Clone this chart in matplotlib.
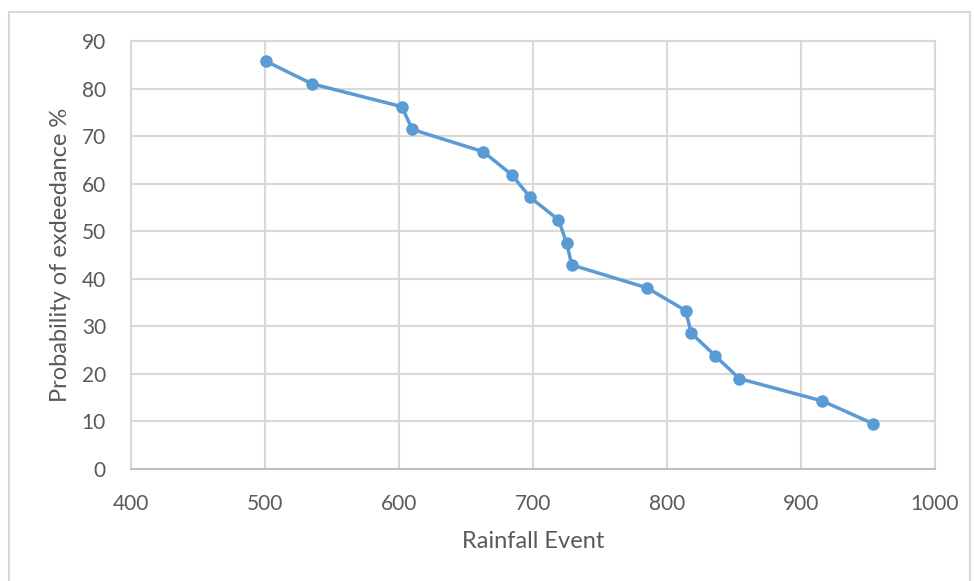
import matplotlib.pyplot as plt
from matplotlib.patches import Rectangle

rainfall = [501, 535, 602, 610, 663, 684, 698, 719, 725, 729,
            785, 814, 818, 836, 854, 916, 954]
prob_exceed = [85.7, 81.0, 76.2, 71.4, 66.7, 61.9, 57.1, 52.4, 47.6, 42.9,
               38.1, 33.3, 28.6, 23.8, 19.0, 14.3, 9.5]
x_ticks = [400, 500, 600, 700, 800, 900, 1000]
y_ticks = [0, 10, 20, 30, 40, 50, 60, 70, 80, 90]

blue = '#5B9BD5'
grey_txt = '#595959'
grid_col = '#D9D9D9'

plt.rcParams['font.family'] = ['Lato', 'DejaVu Sans']

fig = plt.figure(figsize=(9.74, 5.81), dpi=100)
ax = fig.add_axes([131/974, 1 - 469/581, (935 - 131)/974, (469 - 41)/581])

# outer chart border like the spreadsheet frame
fig.patches.append(Rectangle((9/974, -0.01), (970 - 9)/974, 1 - 12/581 + 0.01,
                             transform=fig.transFigure, fill=False,
                             edgecolor=grid_col, linewidth=1.5))

ax.plot(rainfall, prob_exceed, '-o', color=blue, linewidth=2.5,
        markersize=8, zorder=3)

ax.set_xlim(400, 1000)
ax.set_ylim(0, 90)
ax.set_xticks(x_ticks)
ax.set_yticks(y_ticks)
ax.grid(True, color=grid_col, linewidth=1.5)
ax.set_axisbelow(True)
for s in ax.spines.values():
    s.set_color(grid_col)
    s.set_linewidth(1.5)
ax.spines['bottom'].set_color('#BFBFBF')
ax.tick_params(length=0, labelsize=15, labelcolor=grey_txt)
ax.tick_params(axis='x', pad=18)
ax.tick_params(axis='y', pad=18)

ax.set_xlabel('Rainfall Event', fontsize=17, color=grey_txt, labelpad=12)
ax.set_ylabel('Probability of exdeedance %', fontsize=17, color=grey_txt, labelpad=8)

fig.savefig('out.png', dpi=100)
